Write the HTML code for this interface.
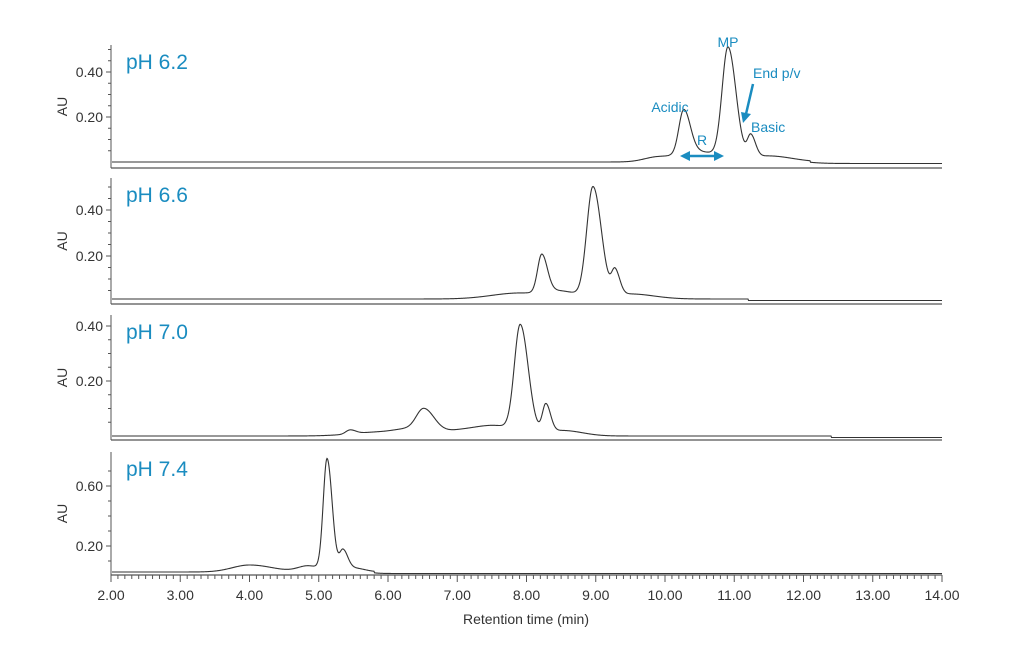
<!DOCTYPE html>
<html><head><meta charset="utf-8"><style>
body{margin:0;background:#fff;}
svg text{font-family:"Liberation Sans",sans-serif;}
</style></head><body>
<svg id="s" width="1024" height="664" xmlns="http://www.w3.org/2000/svg"></svg>
<script>
const S=document.getElementById('s');let h='';
const X=t=>111+(t-2)*69.25;
const panels=[
 {top:45,base:162,axis:168,zero:162,scale:225,ticks:[0.4,0.2],minor:0.05,maxv:0.5,label:'pH 6.2',start:2,end:12.1,
  peaks:[[9.9,5,0.2],[10.27,44,0.07],[10.5,10,0.25],[10.91,110,0.085],[11.24,22,0.05],[11.5,6,0.25]]},
 {top:178,base:299,axis:304,zero:302,scale:230,ticks:[0.4,0.2],minor:0.05,maxv:0.5,label:'pH 6.6',start:2,end:11.2,
  peaks:[[7.9,6,0.4],[8.22,38,0.06],[8.5,5,0.2],[8.96,110,0.09],[9.28,24,0.05],[9.5,5,0.25]]},
 {top:315,base:436,axis:440,zero:436,scale:275,ticks:[0.4,0.2],minor:0.05,maxv:0.42,label:'pH 7.0',start:2,end:12.4,
  peaks:[[5.45,4,0.06],[5.9,4,0.4],[6.52,22,0.11],[6.3,4,0.2],[7.1,5,0.3],[7.6,8,0.3],[7.91,105,0.085],[8.28,28,0.05],[8.55,5,0.2]]},
 {top:452,base:572,axis:575,zero:576,scale:150,ticks:[0.6,0.2],minor:0.1,maxv:0.75,label:'pH 7.4',start:2,end:5.8,
  peaks:[[4.0,7,0.25],[4.85,6,0.15],[5.12,111,0.055],[5.35,20,0.05],[5.5,4,0.12]]}
];
panels.forEach(p=>{
 h+=`<line x1="111" y1="${p.top}" x2="111" y2="${p.axis}" stroke="#555" stroke-width="1"/>`;
 h+=`<line x1="111" y1="${p.axis}" x2="942" y2="${p.axis}" stroke="#555" stroke-width="1.2"/>`;
 for(let v=p.minor;v<=p.maxv+1e-6;v+=p.minor){const y=p.zero-v*p.scale;if(y<p.top)break;
  const major=p.ticks.some(t=>Math.abs(t-v)<1e-6);
  h+=`<line x1="${major?106:108}" y1="${y}" x2="111" y2="${y}" stroke="#555"/>`;}
 p.ticks.forEach(t=>{const y=p.zero-t*p.scale;h+=`<text x="103" y="${y+5}" font-size="14" fill="#333" text-anchor="end">${t.toFixed(2)}</text>`;});
 const my=(p.top+p.axis)/2;
 h+=`<text x="67" y="${my}" font-size="14" fill="#333" text-anchor="middle" transform="rotate(-90 67 ${my})">AU</text>`;
 h+=`<text x="126" y="${p.top+24}" font-size="21" fill="#1a8cc0">${p.label}</text>`;
 let d='';
 for(let x=112;x<=942;x+=0.5){const t=2+(x-111)/69.25;let v=0;
  p.peaks.forEach(([c,a,s])=>{const ss=t>c?s*1.35:s;v+=a*Math.exp(-((t-c)**2)/(2*ss*ss));});
  let b=p.base;if(t>p.end)b+=1.5;
  d+=(d?'L':'M')+x.toFixed(1)+' '+(b-v).toFixed(2);}
 h+=`<path d="${d}" fill="none" stroke="#333" stroke-width="1.1"/>`;
});
// x axis ticks
for(let i=0;i<=120;i++){const t=2+i*0.1,x=X(t);const maj=i%10==0;
 h+=`<line x1="${x}" y1="575" x2="${x}" y2="${maj?582:579}" stroke="#555"/>`;
 if(maj)h+=`<text x="${x}" y="600" font-size="14" fill="#333" text-anchor="middle">${t.toFixed(2)}</text>`;}
h+=`<text x="526" y="624" font-size="14" fill="#333" text-anchor="middle">Retention time (min)</text>`;
// annotations
const c='#1a8cc0';
h+=`<text x="670" y="112" font-size="14" fill="${c}" text-anchor="middle">Acidic</text>`;
h+=`<text x="728" y="47" font-size="14" fill="${c}" text-anchor="middle">MP</text>`;
h+=`<text x="753" y="78" font-size="14" fill="${c}">End p/v</text>`;
h+=`<text x="751" y="132" font-size="14" fill="${c}">Basic</text>`;
h+=`<text x="702" y="145" font-size="14" fill="${c}" text-anchor="middle">R</text>`;
h+=`<line x1="688" y1="156" x2="716" y2="156" stroke="${c}" stroke-width="2.5"/>`;
h+=`<polygon points="680,156 690,151 690,161" fill="${c}"/><polygon points="724,156 714,151 714,161" fill="${c}"/>`;
h+=`<line x1="753" y1="84" x2="746" y2="114" stroke="${c}" stroke-width="2.5"/>`;
h+=`<polygon points="743,123 741,112 751,114" fill="${c}"/>`;
S.innerHTML=h;
</script>
</body></html>
